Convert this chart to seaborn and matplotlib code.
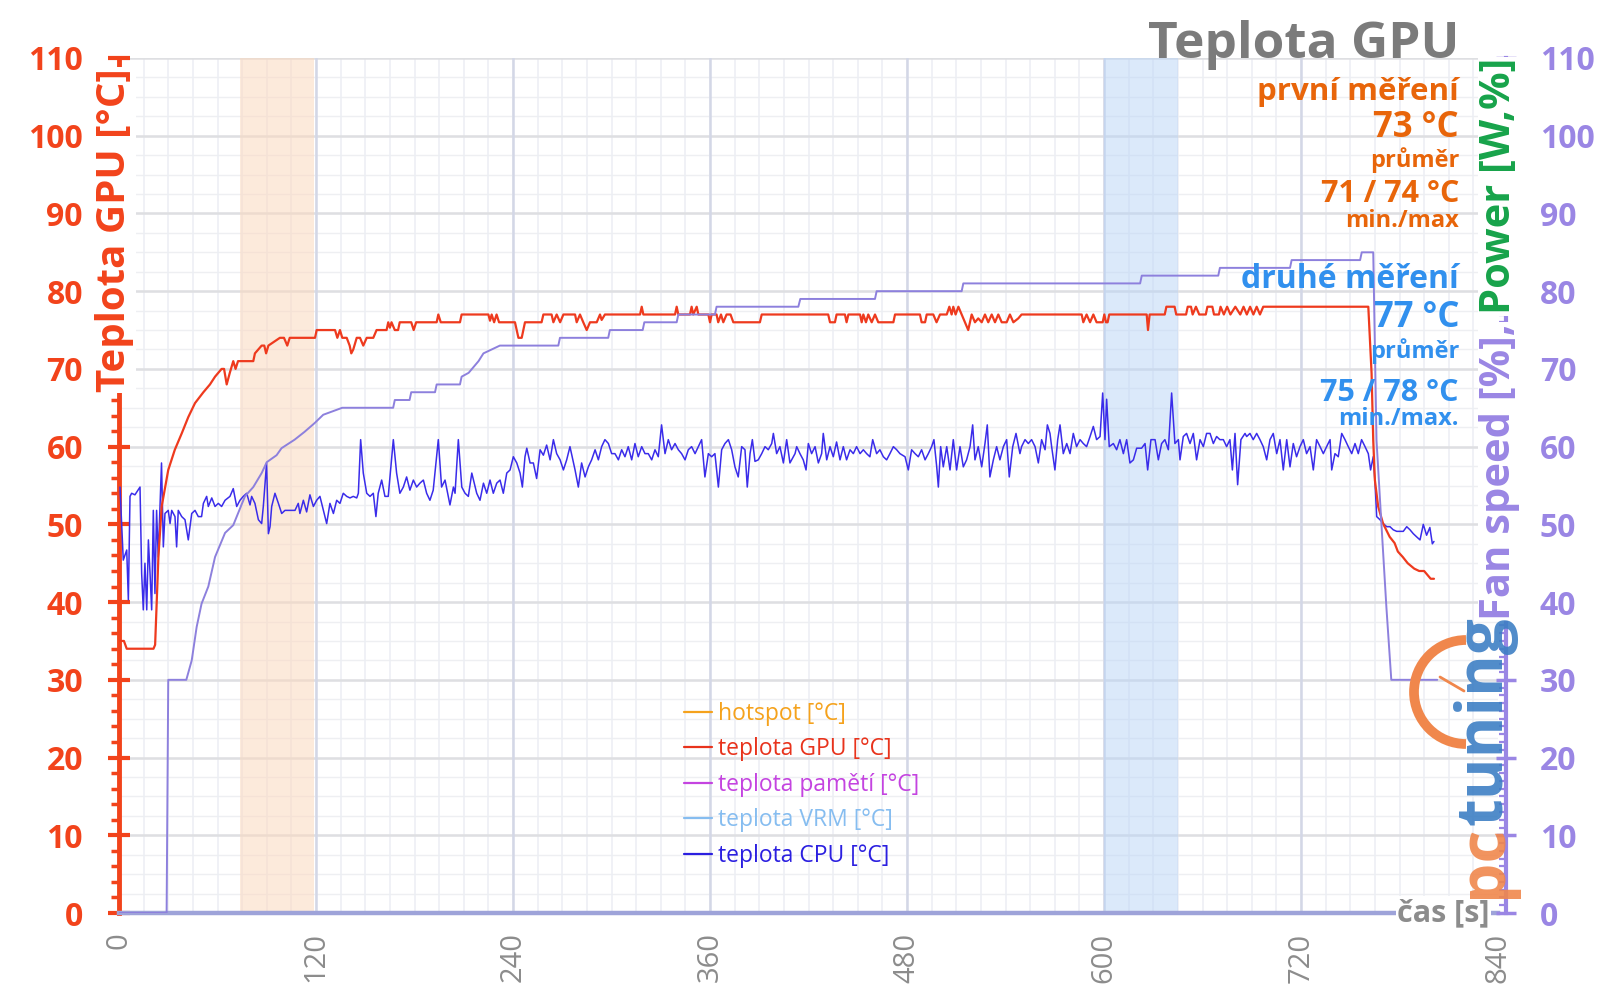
import matplotlib
matplotlib.use("Agg")
import numpy as np
import matplotlib.pyplot as plt
import seaborn as sns
from matplotlib.lines import Line2D
from matplotlib.patches import Arc
from matplotlib.ticker import MultipleLocator

# =========================================
# DATA
# =========================================
x_ticks = [0, 120, 240, 360, 480, 600, 720, 840]
y_ticks = [0, 10, 20, 30, 40, 50, 60, 70, 80, 90, 100, 110]

# measurement windows
window_first = (74, 118.5)
window_second = (600, 645)

# teplota GPU [°C]
gpu_t = [0, 3, 4.7, 21, 22, 24, 26, 30, 34, 38.2, 42.2, 46.3, 51.4, 55.4, 58.5, 62.5, 64, 65.6, 67.5,
         69.6, 71, 72.5, 81.8, 82.8, 86.9, 88.5, 89.6, 91, 98, 100.5, 102.5, 104, 119.4, 120.4, 131.6,
         133, 134.6, 136, 138.7, 140.5, 141.5, 142.7, 144.8, 146.8, 148.8, 150.9, 154.9, 156.9, 163,
         164, 165, 166, 168, 170, 171, 178, 179.5, 181, 193.5, 194.5, 196, 207.7, 208.7, 225, 226, 227,
         228.5, 230, 231.5, 241.2, 243.3, 245.3, 247.3, 257.4, 258.5, 263.5, 264.6, 266.6, 268.7, 270.7,
         277.8, 278.8, 280.8, 282.8, 284.9, 286.9, 291, 293, 294, 296, 317.4, 318.4, 319.4, 338.7,
         339.7, 340.7, 347.8, 348.8, 349.8, 351.9, 352.9, 359, 360, 361, 364, 365, 366.7, 368.1, 370.1,
         372.5, 374.2, 390.4, 391.5, 432, 433.1, 436.1, 437.1, 442.2, 443.2, 444.3, 451.4, 452.4, 453.4,
         455, 456.4, 458.5, 460.5, 462.5, 471.7, 472.7, 487.9, 488.9, 491, 492, 496, 498, 500.1, 504.2,
         505.8, 507.2, 508.2, 509.6, 511.3, 513.3, 515.3, 517.3, 519.4, 521.4, 523.4, 525.5, 527.5,
         529.5, 531.6, 533.6, 535.6, 537.7, 540.7, 542.7, 544.8, 547.8, 549.8, 586.4, 587.4, 589.4,
         591.5, 593.5, 595.5, 599.2, 600.2, 601.2, 602.2, 603.2, 626, 626.8, 627.8, 637, 638, 643, 644,
         650, 651, 653, 654, 656, 658, 662, 663, 666, 667, 670, 671, 673, 675, 677, 680, 683, 685, 687,
         689, 691, 693, 695, 697, 761, 763, 764, 765, 767, 770, 774, 777, 779, 782, 785, 789, 792, 795,
         797, 799, 801]
gpu_v = [35, 35, 34, 34, 34.5, 45.8, 52.3, 57, 59.6, 61.7, 63.8, 65.6, 67, 68, 69, 70, 70, 68, 69.5,
         71, 70, 71, 71, 72, 73, 73, 72, 73, 74, 74, 73, 74, 74, 75, 75,
         74, 75, 74, 74, 73, 72, 72.5, 74, 74, 73, 74, 74, 75, 75,
         76, 75.3, 76, 75, 75, 76, 76, 75, 76, 76, 77, 76, 76, 77, 77, 76.2, 77,
         76, 77, 76, 76, 74, 74, 76, 76, 77, 77, 76, 77, 76, 77,
         77, 76, 77, 76, 75, 76, 76, 77, 76.3, 77, 77, 78, 77, 77,
         78, 77, 77, 78, 77, 78, 77, 77, 76, 77, 77, 76, 77, 76, 77,
         77, 76, 76, 77, 77, 76, 76, 77, 77, 76, 77, 77, 76, 77,
         76, 77, 76, 77, 76, 76, 77, 77, 76, 76, 77, 77, 76, 77, 77,
         78, 77, 78, 77, 78, 77, 76, 75, 77, 76, 76.5, 76, 77,
         76, 77, 76, 77, 76, 76, 77, 76, 76.5, 77, 77, 76, 77,
         76, 77, 76, 76, 77, 76, 76, 77, 77, 75, 77, 77, 78, 78, 77,
         77, 78, 78, 77, 78, 77, 77, 78, 78, 77, 77, 78, 77, 78, 77, 78, 77, 78, 77,
         78, 77, 78, 77, 78, 78, 69.4, 60.8, 55.7, 52.3, 50.1, 48.4, 47.6, 46.5, 45.8, 45, 44.3, 44, 44,
         43.5, 43, 43]

# Fan speed [%]
fan_t = [0, 29, 30, 41, 44.3, 47.3, 50.3, 54.4, 58.5, 64.6, 69.6, 76.7, 81.8, 86.9, 90, 96, 99, 107,
         113, 119, 124.4, 136, 167, 168, 177, 178, 192.5, 193.5, 207.7, 208.7, 213, 215, 219, 222,
         232, 267.6, 268.6, 298, 299, 319, 320, 339.7, 340.7, 363, 364, 413.8, 415, 460.5, 461.5,
         513.3, 514.3, 622, 623, 669.6, 670.6, 713.3, 714.3, 756, 757, 764, 766, 769, 772, 775, 803]
fan_v = [0, 0, 30, 30, 32.5, 36.8, 39.8, 42, 45.8, 48.9, 49.9, 53.6, 54.8, 56.6, 58, 58.9, 59.8, 60.9,
         61.9, 63, 64.1, 65, 65, 66, 66, 67, 67, 68, 68, 69, 69.5, 70, 71, 72,
         73, 73, 74, 74, 75, 75, 76, 76, 77, 77, 78, 78, 79, 79, 80,
         80, 81, 81, 82, 82, 83, 83, 84, 84, 85, 85, 60.8, 50, 39.4, 30, 30]

# teplota CPU [°C]
cpu_t = [0.6, 1.6, 2.6, 4.7, 5.7, 6.7, 7.7, 9.7, 12.8, 13.8, 14.8, 15.8, 16.9, 17.9, 18.9, 19.9, 20.9,
         21.9, 22.9, 23.9, 25.9, 27.0, 28.0, 30.0, 31.1, 32.1, 34.1, 35.1, 36.1, 38.2, 40.2, 42.2, 44.3,
         46.3, 48.3, 50.3, 51.4, 53.4, 54.4, 56.5, 58.5, 60.5, 62.5, 64.6, 67.6, 69.6, 71.7, 73.7, 75.7,
         77.8, 79.8, 80.8, 82.8, 84.9, 86.9, 87.9, 89.9, 91.0, 92.0, 93.0, 95.0, 97.1, 99.1, 101.1,
         103.2, 107.2, 109.2, 110.2, 112.3, 114.3, 116.3, 118.4, 120.4, 122.4, 124.5, 126.5, 128.5,
         130.6, 132.6, 134.6, 136.6,
         138.7, 140.7, 142.7, 144.8, 145.8, 147.2, 148.8, 150.9, 152.9, 154.9, 156.5, 157.9, 160.0,
         162.0, 164.0, 167.1, 169.1, 171.1, 173.2, 175.2, 177.2, 179.3, 181.3, 183.3, 185.4, 187.4,
         189.4, 191.4, 194.5, 196.5, 198.6, 201.6, 203.7, 204.7, 206.7, 208.8, 210.8, 212.8, 214.9,
         217.9, 219.9, 222.0, 224.0, 226.0, 228.0, 230.1, 232.1, 234.1, 236.2, 238.2, 240.2, 242.3,
         244.3, 245.7, 247.3, 248.4, 250.4, 252.4, 254.4, 256.5, 258.5, 260.5, 262.6, 264.6, 266.6,
         268.7, 270.7, 272.7, 274.7,
         277.8, 279.8, 281.8, 283.9, 285.9, 287.9, 290.0, 292.0, 294.0, 296.0, 298.1, 300.1, 302.1,
         304.2, 306.2, 308.2, 310.2, 312.3, 314.3, 316.3, 318.4, 320.4, 322.4, 324.5, 326.5, 328.5,
         330.5, 332.6, 334.6, 336.6, 338.7, 340.7, 342.7, 344.8, 346.8, 348.8, 350.9, 352.9, 354.9,
         356.9, 359.0, 361.0, 363.0, 365.1, 367.1, 369.1, 371.2, 373.2, 375.2, 377.2, 379.3, 381.3,
         382.7, 384.4, 385.8, 387.4, 389.4, 391.5, 393.5, 395.5, 397.6, 398.6, 400.6, 402.6, 404.7,
         406.7, 408.7, 411.8,
         412.8, 414.8, 416.8, 418.5, 419.9, 421.9, 424.0, 426.0, 428.0, 429.0, 431.1, 433.1, 435.1,
         437.1, 439.2, 441.2, 443.2, 445.3, 447.3, 449.3, 451.4, 453.4, 455.4, 457.4, 459.1, 461.5,
         463.5, 465.6, 467.6, 469.6, 471.7, 473.7, 475.7, 478.8, 480.8, 482.8, 484.9, 486.9, 488.9,
         491.0, 493.0, 495.0, 496.4, 498.1, 499.1, 500.5, 502.1, 504.2, 506.2, 508.2, 510.2, 512.3,
         514.3, 516.3, 518.4, 520.0, 521.4, 523.4, 525.5, 527.5, 528.9, 530.5, 532.6, 534.6, 536.6,
         538.7, 540.7, 542.3, 544.4, 546.4, 548.8,
         549.8, 551.9, 553.9, 555.9, 558.0, 560.0, 562.0, 564.1, 565.5, 567.1, 568.1, 570.1, 571.8,
         573.2, 575.2, 577.3, 579.3, 581.3, 583.3, 585.4, 587.4, 589.4, 591.5, 593.5, 595.5, 597.6,
         599.2, 600.6, 601.6, 603.2, 605.7, 607.7, 609.7, 611.8, 613.8, 615.8, 617.9, 619.9, 622.9,
         625.0, 626.6, 628.6, 631.1, 633.1, 635.1, 637.1, 639.2, 641.2, 643.2, 645.3, 646.3, 648.3,
         650.3, 652.4, 654.4, 656.4, 658.5, 660.5, 662.5, 664.6, 666.6, 668.6, 670.6, 672.7, 674.7,
         676.7, 678.2, 679.8, 681.4, 683.4, 685.9,
         686.9, 688.9, 690.9, 693.0, 695.0, 697.0, 699.1, 701.1, 703.1, 705.2, 707.2, 709.2, 711.3,
         713.3, 715.3, 717.3, 719.4, 721.4, 723.4, 725.5, 727.5, 729.5, 731.6, 733.6, 735.6, 737.7,
         738.7, 740.7, 742.7, 744.8, 746.8, 748.8, 750.9, 752.9, 754.9, 756.9, 759.0, 761.0, 762.4,
         764.0, 765.1, 766.1, 768.1, 770.1, 772.2, 774.2, 776.2, 778.3, 780.3, 782.3, 784.4, 786.4,
         788.4, 790.4, 792.5, 794.5, 796.5, 798.5, 800.0, 801.0]
cpu_v = [54.8, 50.1, 45.4, 46.7, 40.3, 53.6, 54.0, 53.8, 54.8, 43.7, 39.0, 45.0, 39.0, 48.0, 43.7, 39.0, 51.8,
         41.1, 51.8, 45.8, 57.9, 47.1, 51.4, 51.8, 50.1, 51.8, 51.0, 47.1, 51.8, 51.0, 50.6, 48.0, 51.4,
         51.8, 51.0, 51.0, 52.7, 53.6, 52.3, 53.4, 52.3, 52.7, 52.3, 53.1, 53.6, 54.6, 52.3, 53.1, 53.6,
         54.0, 52.5, 53.6, 52.7, 50.6, 50.1, 52.3, 57.9, 48.8, 49.7, 52.3, 54.0, 52.7, 51.4, 51.8,
         51.8, 51.8, 52.7, 51.4, 53.1, 51.6, 53.8, 52.3, 53.1, 53.6, 51.8, 50.1, 52.7,
         51.4, 53.1, 52.7, 54.0,
         53.6, 53.4, 53.6, 53.4, 54.0, 60.9, 56.6, 54.0, 53.6, 54.0, 51.0, 54.0, 55.7,
         53.6, 53.6, 60.9, 56.6, 54.0, 54.8, 56.1, 54.4, 55.7, 54.8, 55.3, 55.7, 54.0,
         53.1, 54.4, 60.9, 54.8, 55.7, 52.5, 54.8, 54.0, 60.9, 54.8, 54.0, 53.6, 56.6,
         54.0, 53.1, 55.3, 54.0, 55.7, 54.0, 55.3, 55.7, 54.0, 56.6, 57.0, 58.7, 57.9,
         56.6, 54.8, 58.7, 59.8, 57.9, 57.9, 55.9, 59.6, 58.9, 60.2, 58.3, 60.9, 59.1,
         58.3, 57.0, 58.3, 60.0,
         57.0, 54.8, 57.9, 56.1, 57.4, 58.3, 59.6, 58.3, 60.0, 60.9, 60.4, 59.1, 59.1,
         58.3, 59.6, 58.7, 60.0, 58.3, 60.4, 58.7, 60.0, 59.1, 59.1, 58.3, 59.6, 58.7,
         62.8, 59.1, 60.9, 59.6, 60.4, 59.6, 59.1, 58.3, 59.6, 60.0, 59.1, 60.0, 60.9,
         56.1, 59.1, 58.7, 59.1, 54.8, 59.6, 60.4, 60.9, 59.6, 57.4, 56.1, 60.0, 59.6,
         54.8, 59.1, 60.9, 58.1, 58.3, 59.1, 60.0, 59.6, 60.4, 61.7, 59.1, 60.0, 57.9,
         60.9, 57.9, 59.1,
         60.0, 59.1, 58.3, 57.0, 60.4, 59.1, 60.0, 57.9, 59.1, 61.7, 58.3, 60.0, 58.7,
         60.6, 58.3, 60.0, 58.3, 59.6, 59.1, 60.0, 59.1, 59.6, 59.1, 58.7, 60.9, 59.1,
         59.6, 58.7, 58.3, 59.1, 60.0, 59.6, 59.1, 58.7, 57.0, 59.6, 59.1, 58.7, 59.6,
         58.3, 59.1, 60.0, 60.9, 57.4, 54.8, 60.0, 57.4, 60.0, 57.0, 60.9, 57.0, 60.0,
         57.4, 58.3, 60.0, 62.8, 58.3, 60.0, 57.4, 60.4, 62.8, 56.1, 58.3, 60.0, 58.3,
         60.0, 60.9, 56.1, 60.0, 61.7, 59.1,
         60.0, 60.9, 60.4, 60.9, 60.0, 57.9, 60.9, 59.6, 62.8, 61.7, 60.0, 57.0, 60.9,
         62.8, 59.1, 60.4, 59.1, 61.7, 60.0, 60.9, 60.4, 60.0, 61.3, 62.6, 60.9, 61.3,
         66.9, 60.9, 66.1, 60.0, 60.4, 59.6, 60.9, 59.1, 60.9, 57.9, 58.3, 59.8, 59.8,
         60.4, 57.0, 60.9, 60.9, 58.3, 60.4, 60.9, 59.6, 66.9, 60.4, 60.9, 58.3, 61.3,
         61.7, 60.4, 61.7, 58.3, 60.9, 60.0, 61.7, 61.7, 60.4, 61.3, 60.9, 60.9, 60.0,
         60.9, 57.0, 61.7, 55.1, 60.9, 61.7,
         61.3, 61.7, 60.9, 61.7, 60.9, 60.0, 58.3, 60.9, 61.7, 59.1, 60.9, 57.0, 60.9,
         57.4, 60.4, 58.7, 60.0, 60.9, 59.1, 60.0, 57.0, 60.9, 60.0, 59.1, 60.0, 60.9,
         57.0, 59.1, 58.7, 61.7, 60.9, 60.0, 59.1, 60.4, 59.1, 60.9, 60.0, 59.1, 57.0,
         58.7, 55.3, 51.0, 50.6, 50.1, 49.7, 49.7, 49.3, 49.1, 49.1, 49.1, 49.7, 49.3,
         48.8, 48.4, 48.0, 50.0, 48.6, 49.6, 47.5, 47.8]

legend_labels = ["hotspot [°C]", "teplota GPU [°C]", "teplota pamětí [°C]", "teplota VRM [°C]", "teplota CPU [°C]"]
legend_colors = ["#f5a21c", "#e8331c", "#c444e0", "#86bdf0", "#2b1fe0"]

# =========================================
# STYLE
# =========================================
sns.set_style("white")
plt.rcParams['font.family'] = ['Open Sans', 'DejaVu Sans']

RED = "#f2431b"
PURPLE = "#9a86e4"
GREEN = "#17a34a"
ORANGE_TXT = "#e8650a"
BLUE_TXT = "#3190ee"
GRAY = "#7b7b7b"

W, H = 1600, 1008
fig = plt.figure(figsize=(16, 10.08), dpi=100)
ax = fig.add_axes([119 / W, 1 - 913 / H, (1498 - 119) / W, (913 - 58) / H])
ax.set_xlim(0, 840)
ax.set_ylim(0, 110)

# bands
ax.axvspan(*window_first, color="#fbd9bf", alpha=0.55, lw=0, zorder=0.5)
ax.axvspan(*window_second, color="#b9d5f7", alpha=0.5, lw=0, zorder=0.5)

# grid
for v in np.arange(2.5, 110, 2.5):
    ax.axhline(v, color="#eeeff2", lw=1.0, zorder=0.2)
for v in np.arange(15, 840, 15):
    ax.axvline(v, color="#eceef4", lw=1.1, zorder=0.2)
for v in y_ticks[1:]:
    ax.axhline(v, color="#dedfe2", lw=1.8, zorder=0.3)
for v in x_ticks[1:-1]:
    ax.axvline(v, color="#d3d7e6", lw=1.8, zorder=0.3)

# lines
ax2 = ax.twinx()
ax2.set_ylim(0, 110)
sns.lineplot(x=fan_t, y=fan_v, ax=ax2, color="#8d80dd", lw=1.4, estimator=None, zorder=3)
sns.lineplot(x=cpu_t, y=cpu_v, ax=ax, color="#3a2cea", lw=1.1, estimator=None, zorder=4)
sns.lineplot(x=gpu_t, y=gpu_v, ax=ax, color="#ee3a1e", lw=1.6, estimator=None, zorder=5)
ax.set_xlim(0, 840)
ax2.set_xlim(0, 840)

# axes styling
ax.set_xticks(x_ticks)
ax.set_yticks(y_ticks)
ax.yaxis.set_minor_locator(MultipleLocator(2))
ax.set_xlabel("")
ax.set_ylabel("")
for s in ["top", "right"]:
    ax.spines[s].set_visible(False)
ax.spines["left"].set_color(RED)
ax.spines["left"].set_linewidth(3.5)
ax.spines["bottom"].set_color("#9ea3d9")
ax.spines["bottom"].set_linewidth(3.2)
ax.tick_params(axis="y", which="major", direction="inout", length=16, width=3, color=RED,
               labelcolor=RED, labelsize=23, pad=18)
ax.tick_params(axis="y", which="minor", direction="out", length=6, width=2.5, color=RED)
ax.tick_params(axis="x", which="major", direction="out", length=8, width=3, color="#b5b5b5",
               labelcolor="#8c8c8c", labelsize=21, labelrotation=90, pad=6)
for lab in ax.get_yticklabels():
    lab.set_fontweight("bold")

ax2.set_yticks(y_ticks)
ax2.yaxis.set_minor_locator(MultipleLocator(1))
ax2.set_ylabel("")
for s in ["top", "left", "bottom"]:
    ax2.spines[s].set_visible(False)
ax2.spines["right"].set_color(PURPLE)
ax2.spines["right"].set_linewidth(3)
ax2.spines["right"].set_position(("outward", 6))
ax2.tick_params(axis="y", which="major", direction="inout", length=14, width=2.5, color=PURPLE,
                labelcolor=PURPLE, labelsize=23, pad=17)
ax2.tick_params(axis="y", which="minor", direction="in", length=5, width=1.6, color=PURPLE)
for lab in ax2.get_yticklabels():
    lab.set_fontweight("bold")

# x axis caption
ax.text(0.994, 0, "čas [s]", transform=ax.transAxes, ha="right", va="center", color="#8c8c8c",
        fontsize=22, fontweight="bold", zorder=10,
        bbox=dict(facecolor="white", edgecolor="none", pad=1))

# legend
handles = [Line2D([], [], color=c, lw=1.6) for c in legend_colors]
ax.legend(handles, legend_labels, loc="upper left", bbox_to_anchor=(684 / W, 1 - 702 / H),
          bbox_transform=fig.transFigure, frameon=False, fontsize=16.5, handlelength=1.2,
          handletextpad=0.3, labelspacing=0.5, borderpad=0, borderaxespad=0,
          labelcolor="linecolor")

# left axis title
fig.text(115 / W, 1 - 68 / H, "Teplota GPU [°C]", rotation=90, ha="center", va="top", color=RED,
         fontsize=29, fontweight="bold", bbox=dict(facecolor="white", edgecolor="none", pad=1))

# info block
xr = 1459 / W
info = [
    ("Teplota GPU", 45, 37, GRAY),
    ("první měření", 92, 22.5, ORANGE_TXT),
    ("73 °C", 128, 25, ORANGE_TXT),
    ("průměr", 160, 17, ORANGE_TXT),
    ("71 / 74 °C", 194, 22, ORANGE_TXT),
    ("min./max", 221, 17, ORANGE_TXT),
    ("druhé měření", 279, 23, BLUE_TXT),
    ("77 °C", 318, 25, BLUE_TXT),
    ("průměr", 351, 17, BLUE_TXT),
    ("75 / 78 °C", 393, 22, BLUE_TXT),
    ("min./max.", 419, 17, BLUE_TXT),
]
for txt, yc, fs, col in info:
    fig.text(xr, 1 - yc / H, txt, ha="right", va="center", fontsize=fs, fontweight="bold", color=col)

# right axis title (two colours) and logo
fig.canvas.draw()
rend = fig.canvas.get_renderer()
t_pow = fig.text(1500 / W, 1 - 58 / H, "Power [W,%]", rotation=90, ha="center", va="top",
                 color=GREEN, fontsize=30, fontweight="bold",
                 bbox=dict(facecolor="white", edgecolor="none", pad=1))
bb = t_pow.get_window_extent(rend)
fig.text(1500 / W, (bb.y0 - 9) / H, "Fan speed [%],", rotation=90, ha="center", va="top",
         color=PURPLE, fontsize=30, fontweight="bold",
         bbox=dict(facecolor="white", edgecolor="none", pad=1))

t_pc = fig.text(1485 / W, 1 - 898 / H, "pc", rotation=90, ha="center", va="bottom",
                color="#f0874c", fontsize=46, fontweight="bold", alpha=0.9)
bb = t_pc.get_window_extent(rend)
fig.text(1485 / W, bb.y1 / H, "tuning", rotation=90, ha="center", va="bottom",
         color="#3d7fc4", fontsize=46, fontweight="bold", alpha=0.9)
fig.add_artist(Arc((1466 / W, 1 - 692 / H), 104 / W, 104 / H, theta1=90, theta2=270,
                   transform=fig.transFigure, color="#f0874c", lw=7))
fig.add_artist(Line2D([1440 / W, 1464 / W], [1 - 677 / H, 1 - 691 / H], transform=fig.transFigure,
                      color="#f0874c", lw=2))

fig.savefig("out.png", dpi=100)
